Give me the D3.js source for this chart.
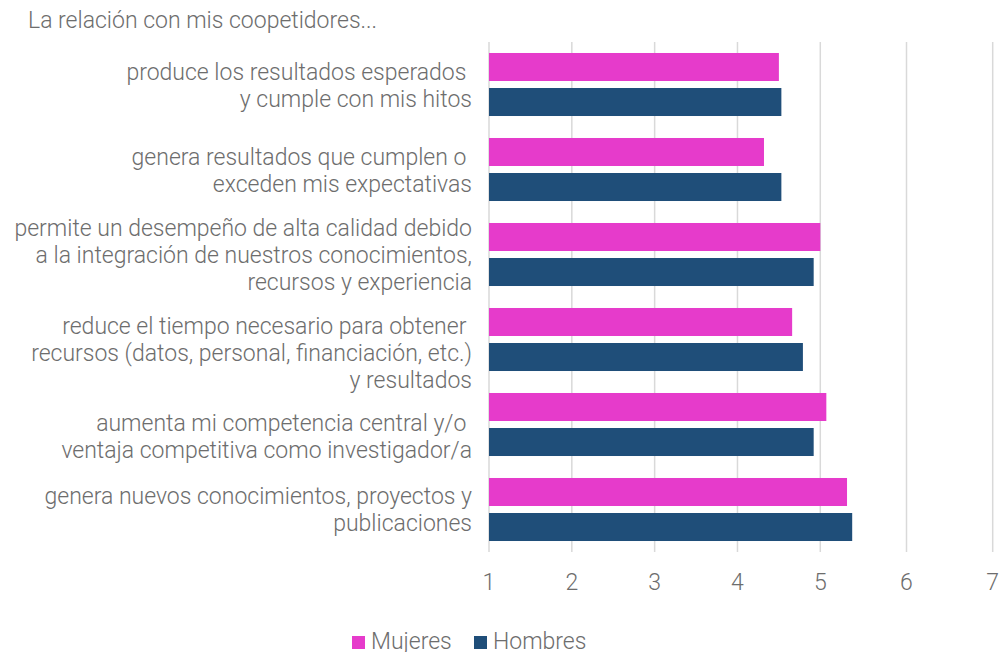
<!DOCTYPE html>
<html><head><meta charset="utf-8">
<script src="https://cdn.jsdelivr.net/npm/d3@7"></script>
<style>
html,body{margin:0;padding:0;background:#fff;}
svg{display:block;}
text{font-family:Roboto,"Noto Sans",sans-serif;font-weight:300;fill:#6d6d6d;white-space:pre;}
</style></head>
<body>
<svg id="chart" width="999" height="652"></svg>
<script>
const title = "La relación con mis coopetidores...";
const categories = [
  ["produce los resultados esperados ", "y cumple con mis hitos"],
  ["genera resultados que cumplen o ", "exceden mis expectativas"],
  ["permite un desempeño de alta calidad debido", "a la integración de nuestros conocimientos,", "recursos y experiencia"],
  ["reduce el tiempo necesario para obtener ", "recursos (datos, personal, financiación, etc.)", "y resultados"],
  ["aumenta mi competencia central y/o ", "ventaja competitiva como investigador/a"],
  ["genera nuevos conocimientos, proyectos y", "publicaciones"]
];
const seriesNames = ["Mujeres", "Hombres"];
const mujeres = [4.50, 4.32, 5.00, 4.66, 5.07, 5.31];
const hombres = [4.53, 4.53, 4.92, 4.79, 4.92, 5.37];
const tickValues = [1, 2, 3, 4, 5, 6, 7];
const colors = ["#E63BCB", "#1F4E79"];

const svg = d3.select("#chart");
const catIds = categories.map((c, i) => i);

const x = d3.scaleLinear().domain([1, 5, 7]).range([489, 820.3, 992.7]);
const y = d3.scaleBand().domain(catIds).range([42, 552]).padding(0);
const ys = d3.scaleBand().domain(seriesNames).range([0, y.bandwidth()])
  .paddingInner(0.2).paddingOuter(0.314);

// title
svg.append("text").attr("x", 28).attr("y", 28).attr("font-size", 23).text(title);

// gridlines
svg.append("g").selectAll("line").data(tickValues).join("line")
  .attr("x1", d => x(d)).attr("x2", d => x(d))
  .attr("y1", 42).attr("y2", 552)
  .attr("stroke", "#d9d9d9").attr("stroke-width", 1.5);

// x tick labels
svg.append("g").selectAll("text").data(tickValues).join("text")
  .attr("x", d => x(d)).attr("y", 590)
  .attr("text-anchor", "middle").attr("font-size", 23)
  .text(d => d);

// bars
const seriesData = [mujeres, hombres];
seriesNames.forEach((name, si) => {
  svg.append("g").selectAll("rect").data(seriesData[si]).join("rect")
    .attr("x", x(1))
    .attr("y", (d, i) => y(i) + ys(name))
    .attr("width", d => x(d) - x(1))
    .attr("height", ys.bandwidth())
    .attr("fill", colors[si]);
});

// category labels (layout nudges mimic original label placement)
const labelShift = [1.5, 1.5, 1, 14, 12.5, 0];
const lineH = 27;
const lab = svg.append("g");
categories.forEach((lines, i) => {
  const cy = y(i) + y.bandwidth() / 2 + labelShift[i];
  const t = lab.append("text").attr("text-anchor", "end").attr("font-size", 23);
  lines.forEach((ln, j) => {
    t.append("tspan").attr("x", 472)
      .attr("y", cy + (j - (lines.length - 1) / 2) * lineH + 7.5)
      .text(ln);
  });
});

// legend
const leg = svg.append("g");
const legX = [352, 474];
seriesNames.forEach((name, i) => {
  leg.append("rect").attr("x", legX[i]).attr("y", 636).attr("width", 13).attr("height", 13).attr("fill", colors[i]);
  leg.append("text").attr("x", legX[i] + 19).attr("y", 649).attr("font-size", 23).text(name);
});
</script>
</body></html>
